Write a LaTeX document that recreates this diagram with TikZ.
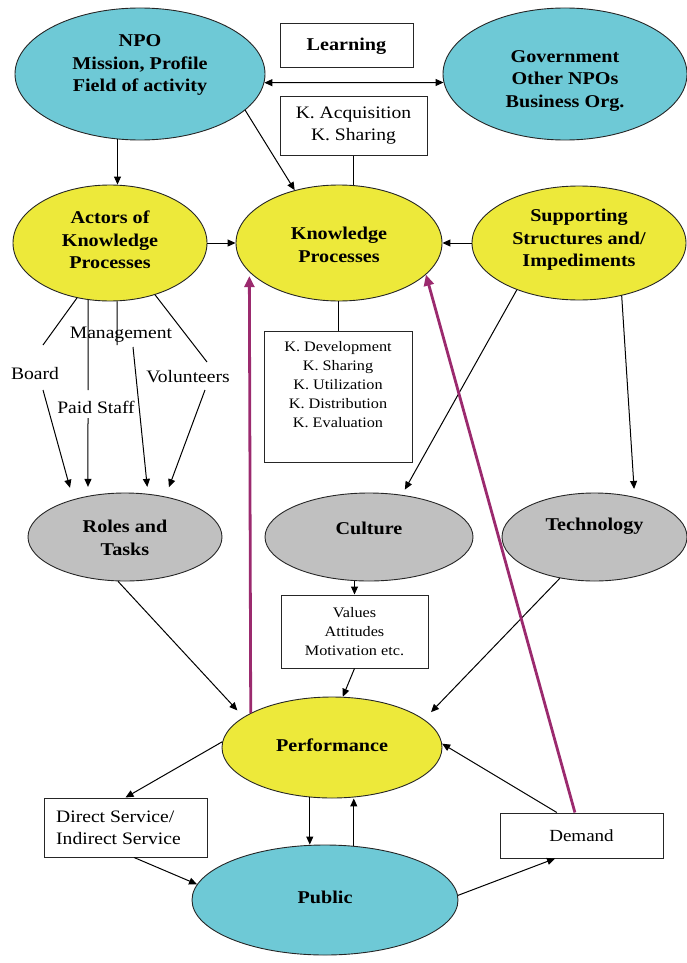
\documentclass[tikz,border=0pt]{standalone}
\usepackage{fontspec}
\setmainfont[FakeStretch=1.12]{Liberation Serif}
\usetikzlibrary{shapes.geometric,arrows.meta}
\definecolor{cy}{RGB}{110,201,214}
\definecolor{ye}{RGB}{237,233,58}
\definecolor{gr}{RGB}{192,192,192}
\definecolor{mg}{RGB}{155,42,110}
\begin{document}
\begin{tikzpicture}[x=1pt,y=-1pt,
  ell/.style={ellipse, draw=black!85, line width=0.9pt, inner sep=0pt},
  box/.style={rectangle, draw=black!85, line width=1pt, inner sep=2pt},
  txtB/.style={font=\fontsize{18}{22.5}\selectfont\bfseries, align=center, inner sep=0pt},
  txtR/.style={font=\fontsize{17.5}{22}\selectfont, align=center},
  txtS/.style={font=\fontsize{14.5}{19}\selectfont, align=center, inner sep=0pt},
  arr/.style={-{Triangle[length=8pt,width=7pt]}, line width=1pt},
  ln/.style={line width=1pt},
  mag/.style={draw=mg, line width=2.8pt, -{Triangle[length=11pt,width=10pt]}}]
\useasboundingbox (0,0) rectangle (687,963);

% ellipses and boxes
\node[ell, fill=cy, minimum width=250, minimum height=132] (npo) at (140,74) {};
\node[txtB] (npoT) at (140,65) {NPO\\Mission, Profile\\Field of activity};
\node[box, minimum width=133, minimum height=44, font=\fontsize{18}{22}\selectfont\bfseries] (learn) at (346.5,46) {Learning};
\node[ell, fill=cy, minimum width=244, minimum height=132] (gov) at (565,74) {};
\node[txtB] (govT) at (565,81) {Government\\Other NPOs\\Business Org.};
\node[box, minimum width=147, minimum height=58, txtR] (kacq) at (353.5,126) {K. Acquisition\\K. Sharing};

\node[ell, fill=ye, minimum width=194, minimum height=116] (actors) at (110,243) {};
\node[txtB] (actorsT) at (110,240) {Actors of\\Knowledge\\Processes};
\node[ell, fill=ye, minimum width=206, minimum height=116] (kp) at (339,243) {};
\node[txtB] (kpT) at (339,245) {Knowledge\\Processes};
\node[ell, fill=ye, minimum width=214, minimum height=114] (supp) at (579,243) {};
\node[txtB] (suppT) at (579,240) {Supporting\\Structures and/\\Impediments};

\node[box, minimum width=148, minimum height=131] (kdev) at (338,396.5) {};
\node[txtS] (kdevT) at (338,385) {K. Development\\K. Sharing\\K. Utilization\\K. Distribution\\K. Evaluation};

\node[ell, fill=gr, minimum width=194, minimum height=88] (roles) at (125,537) {};
\node[txtB] (rolesT) at (125,538) {Roles and\\Tasks};
\node[ell, fill=gr, minimum width=208, minimum height=88] (culture) at (369,537) {};
\node[txtB] (cultureT) at (369,528) {Culture};
\node[ell, fill=gr, minimum width=185, minimum height=88] (tech) at (594.5,537) {};
\node[txtB] (techT) at (594.5,526) {Technology};

\node[box, minimum width=147, minimum height=73, txtS] (values) at (354.5,631.5) {Values\\Attitudes\\Motivation etc.};

\node[ell, fill=ye, minimum width=220, minimum height=101] (perf) at (332,747.5) {};
\node[txtB] (perfT) at (332,745) {Performance};
\node[box, minimum width=163, minimum height=59] (direct) at (125.5,827.5) {};
\node[txtR, align=left, anchor=west, inner sep=0pt] (directT) at (56,828) {Direct Service/\\Indirect Service};
\node[ell, fill=cy, minimum width=266, minimum height=110] (public) at (325,900) {};
\node[txtB] (publicT) at (325,897) {Public};
\node[box, minimum width=163, minimum height=45, font=\fontsize{17}{21}\selectfont] (demand) at (581.5,835.5) {Demand};

% role labels
\coordinate (b1) at (43,345); \coordinate (b2) at (43,390);
\coordinate (p1) at (88,390); \coordinate (p2) at (88,418);
\coordinate (m1) at (117,345); \coordinate (m2) at (133,347);
\coordinate (v1) at (207,362); \coordinate (v2) at (205,390);
\draw[ln] (actors.-121.7) -- (b1);
\draw[ln] (actors.-111.3) -- (p1);
\draw[ln] (actors.-83) -- (m1);
\draw[ln] (actors.-49) -- (v1);
\draw[arr, shorten >=12pt] (b2) -- (roles.144.6);
\draw[arr, shorten >=9pt] (p2) -- (roles.132.3);
\draw[arr, shorten >=7pt] (m2) -- (roles.62.9);
\draw[arr, shorten >=10pt] (v2) -- (roles.45);
\node[txtR, inner sep=0pt] (board) at (35,374) {Board};
\node[txtR, inner sep=0pt] (paid) at (96,407) {Paid Staff};
\node[txtR, inner sep=0pt] (mgmt) at (121,335) {Management};
\node[txtR, inner sep=0pt] (vol) at (188,377) {Volunteers};

% connectors
\draw[{Triangle[length=8pt,width=7pt]}-{Triangle[length=8pt,width=7pt]}, line width=1pt] (npo.-4) -- (gov.184);
\draw[arr] (npo.-109.5) -- (npo.-109.5 |- actors.north);
\draw[arr] (npo.-19) -- (kp.130);
\draw[ln] (kacq.south) -- (kacq.south |- kp.north);
\draw[arr] (actors.east) -- (kp.west);
\draw[arr] (supp.west) -- (kp.east);
\draw[ln] (kp.south -| kdev.north) -- (kdev.north);
\draw[arr, shorten >=6pt] (supp.-143.7) -- (culture.52.7);
\draw[arr, shorten >=8pt] (supp.-51.3) -- (tech.45.2);
\draw[arr] (values.north |- culture.south) -- (values.north);
\draw[arr] (values.south) -- (perf.78.7);
\draw[arr, shorten >=9pt] (roles.-99) -- (perf.161.9);
\draw[arr, shorten >=10pt] (tech.-130) -- (perf.17.2);
\draw[arr] (perf.177) -- (direct.north);
\draw[arr] (direct.-74) -- (public.173);
\draw[arr] (perf.-114) -- (perf.-114 |- public.north);
\draw[arr] (public.62.5) -- (public.62.5 |- perf.south);
\draw[arr] (public.2) -- (demand.-139.7);
\draw[arr] (demand.137.4) -- (perf.2.3);

% magenta
\draw[mag, shorten >=4pt] (perf.157.7) -- (kp.-162);
\draw[mag] (demand.106) -- (kp.-20.5);
\end{tikzpicture}
\end{document}
